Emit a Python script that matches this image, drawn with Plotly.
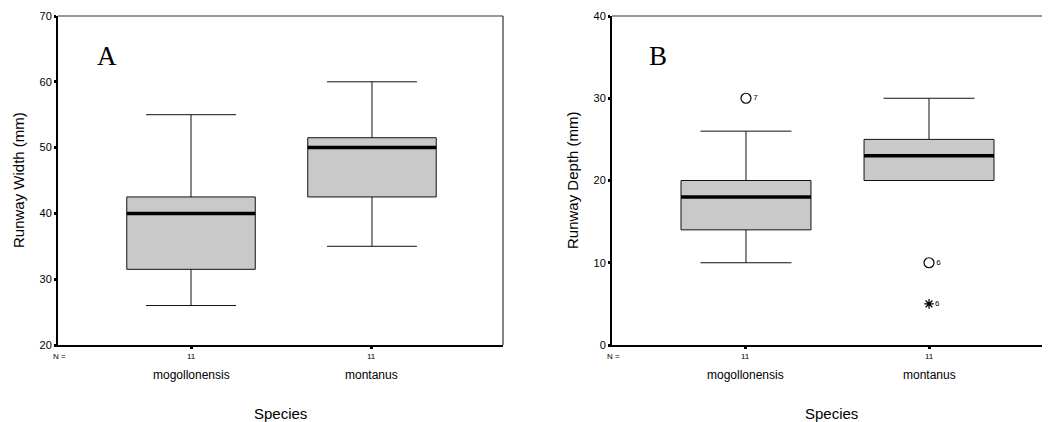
import plotly.graph_objects as go

categories = ["mogollonensis", "montanus"]
n_counts = ["11", "11"]

# Panel A: Runway Width (mm)
width_q1 = [31.5, 42.5]
width_median = [40, 50]
width_q3 = [42.5, 51.5]
width_lower = [26, 35]
width_upper = [55, 60]

# Panel B: Runway Depth (mm)
depth_q1 = [14, 20]
depth_median = [18, 23]
depth_q3 = [20, 25]
depth_lower = [10, 20]
depth_upper = [26, 30]

# Outliers (panel B)
out_circle_cat = [0, 1]
out_circle_val = [30, 10]
out_circle_lab = ["7", "6"]
out_star_cat = [1]
out_star_val = [5]
out_star_lab = ["6"]

BOXW = 0.71
FONT = "Liberation Sans, Arial, sans-serif"
OFF = 8          # page body margin in the browser
W, H = 1050 - OFF, 422 - OFF
PTOP, PBOT = 16 - OFF, 345 - OFF   # plot area (figure px)

fig = go.Figure()

def add_panel(xa, ya, q1, med, q3, lo, hi):
    for i in range(len(categories)):
        fig.add_trace(go.Box(
            x=[i], q1=[q1[i]], median=[med[i]], q3=[q3[i]],
            lowerfence=[lo[i]], upperfence=[hi[i]],
            width=BOXW, whiskerwidth=0.7,
            fillcolor="#c9c9c9", line=dict(color="#111111", width=1),
            boxpoints=False, showlegend=False, hoverinfo="skip",
            xaxis=xa, yaxis=ya))
        fig.add_trace(go.Scatter(
            x=[i - BOXW / 2, i + BOXW / 2], y=[med[i], med[i]],
            mode="lines", line=dict(color="black", width=3.5),
            showlegend=False, hoverinfo="skip", xaxis=xa, yaxis=ya))

add_panel("x", "y", width_q1, width_median, width_q3, width_lower, width_upper)
add_panel("x2", "y2", depth_q1, depth_median, depth_q3, depth_lower, depth_upper)

fig.add_trace(go.Scatter(
    x=out_circle_cat, y=out_circle_val, mode="markers+text",
    marker=dict(symbol="circle-open", size=10, color="black", line=dict(width=1.2)),
    text=out_circle_lab, textposition="middle right",
    textfont=dict(size=8, family=FONT, color="black"),
    showlegend=False, xaxis="x2", yaxis="y2"))
fig.add_trace(go.Scatter(
    x=out_star_cat, y=out_star_val, mode="markers+text",
    marker=dict(symbol="asterisk-open", size=8, color="black", line=dict(width=1.2)),
    text=out_star_lab, textposition="middle right",
    textfont=dict(size=8, family=FONT, color="black"),
    showlegend=False, xaxis="x2", yaxis="y2"))

xcommon = dict(showgrid=False, zeroline=False, showline=True, linecolor="black",
               linewidth=2, ticks="outside", ticklen=2, tickwidth=3, tickcolor="black",
               showticklabels=False, tickvals=[0, 1])
ycommon = dict(showgrid=False, zeroline=False, showline=True, linecolor="black",
               linewidth=2, ticks="outside", ticklen=2, tickwidth=3, tickcolor="black",
               tickfont=dict(size=11, family=FONT, color="black"))

fig.update_layout(
    width=W, height=H,
    margin=dict(l=0, r=0, t=PTOP, b=H - PBOT),
    paper_bgcolor="white", plot_bgcolor="white",
    font=dict(family=FONT, color="black"),
    xaxis=dict(domain=[(58 - OFF) / W, (503 - OFF) / W], range=[-0.735, 1.724], anchor="y", **xcommon),
    yaxis=dict(domain=[0, 1], range=[20, 70], tickvals=[20, 30, 40, 50, 60, 70], anchor="x", **ycommon),
    xaxis2=dict(domain=[(612 - OFF) / W, 1.0], range=[-0.732, 1.661], anchor="y2", **xcommon),
    yaxis2=dict(domain=[0, 1], range=[0, 40], tickvals=[0, 10, 20, 30, 40], anchor="x2", **ycommon),
)

# frame lines (top and right for A, top for B)
fig.add_shape(type="line", xref="x domain", yref="y domain", x0=0, x1=1, y0=1, y1=1,
              line=dict(color="#333333", width=1.2))
fig.add_shape(type="line", xref="x domain", yref="y domain", x0=1, x1=1, y0=0, y1=1,
              line=dict(color="#333333", width=1.2))
fig.add_shape(type="line", xref="x2 domain", yref="y2 domain", x0=0, x1=1, y0=1, y1=1,
              line=dict(color="#333333", width=1.2))

ann = []
for xa, ya, letter, ytitle, lx, ttl_x in [
        ("x", "y", "A", "Runway Width (mm)", 107, 18),
        ("x2", "y2", "B", "Runway Depth (mm)", 658, 572)]:
    ann.append(dict(x=lx, y=56, xref="paper", yref="paper", text=letter, showarrow=False,
                    font=dict(family="Liberation Serif, Times New Roman, serif", size=27, color="black")))
    ann.append(dict(x=ttl_x, y=180, xref="paper", yref="paper", text=ytitle, textangle=-90,
                    showarrow=False, font=dict(size=15, family=FONT, color="black")))
    for i, c in enumerate(categories):
        ann.append(dict(x=i, y=356, xref=xa, yref="paper", text=n_counts[i], showarrow=False,
                        font=dict(size=8, family=FONT, color="black")))
        ann.append(dict(x=i, y=375, xref=xa, yref="paper", text=c, showarrow=False,
                        font=dict(size=12, family=FONT, color="black")))
    ann.append(dict(x=0.004, y=356, xref=xa + " domain", yref="paper", text="N =", showarrow=False,
                    font=dict(size=8, family=FONT, color="black")))
    ann.append(dict(x=0.5, y=413, xref=xa + " domain", yref="paper", text="Species", showarrow=False,
                    font=dict(size=15, family=FONT, color="black")))

# convert window pixel positions to paper coords
for a in ann:
    a["xanchor"] = "center"
    a["yanchor"] = "middle"
    if a["yref"] == "paper":
        a["y"] = (PBOT - (a["y"] - OFF)) / (PBOT - PTOP)
    if a["xref"] == "paper":
        a["x"] = (a["x"] - OFF) / W
fig.update_layout(annotations=ann)

fig.write_html("out.html")
